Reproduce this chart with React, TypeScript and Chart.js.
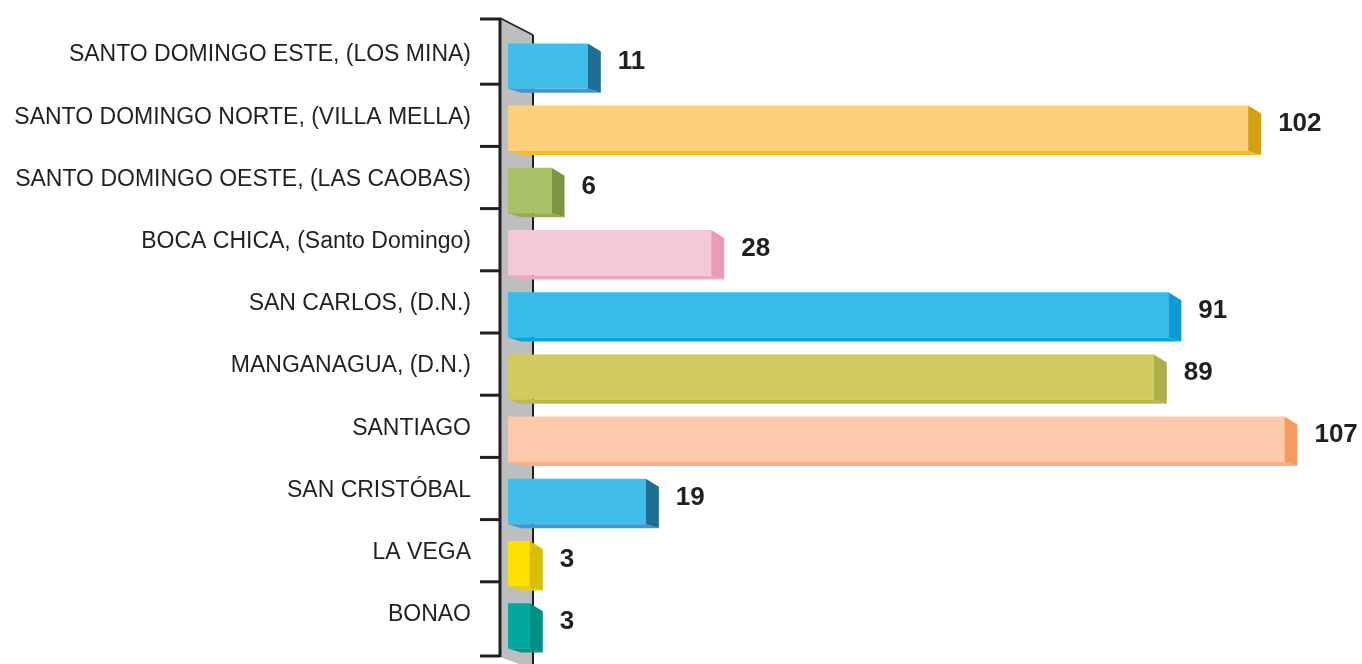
import React, { useEffect, useRef } from "react";
import { Chart, registerables } from "chart.js";

Chart.register(...registerables);

const categories = [
  "SANTO DOMINGO ESTE, (LOS MINA)",
  "SANTO DOMINGO NORTE, (VILLA MELLA)",
  "SANTO DOMINGO OESTE, (LAS CAOBAS)",
  "BOCA CHICA, (Santo Domingo)",
  "SAN CARLOS, (D.N.)",
  "MANGANAGUA, (D.N.)",
  "SANTIAGO",
  "SAN CRISTÓBAL",
  "LA VEGA",
  "BONAO",
];
const values = [11, 102, 6, 28, 91, 89, 107, 19, 3, 3];
const frontColors = [
  "#41bdea", "#ffd07a", "#a9c066", "#f4c8d8", "#37bbe9",
  "#d2ca5e", "#fbc9ab", "#41bdea", "#ffe000", "#00a89d",
];
const sideColors = [
  "#1f6e93", "#d4a012", "#7b9540", "#eb9ab8", "#0a9bd6",
  "#aeae48", "#f79a5e", "#1f6e93", "#d8c000", "#008f80",
];
const bottomColors = [
  "#3a9ad6", "#fbbb22", "#94ac52", "#f0a6c3", "#00a8e0",
  "#bcb84c", "#f9ae85", "#3a9ad6", "#e8d000", "#00988c",
];
const xMax = 117;

const TEXT = "#231f20";

const wallPlugin = {
  id: "wall3d",
  beforeDatasetsDraw(chart: any) {
    const { ctx, chartArea, scales } = chart;
    const ys = scales.y;
    const left = chartArea.left;
    const top = chartArea.top;
    const bottom = chartArea.bottom;
    const wl = left - 8;
    const wr = left + 25;
    ctx.save();
    // wall
    ctx.fillStyle = "#bdbec0";
    ctx.beginPath();
    ctx.moveTo(wl, top - 17);
    ctx.lineTo(wr, top);
    ctx.lineTo(wr, bottom + 12);
    ctx.lineTo(wl, bottom);
    ctx.closePath();
    ctx.fill();
    // top slanted edge
    ctx.strokeStyle = TEXT;
    ctx.lineWidth = 1.5;
    ctx.beginPath();
    ctx.moveTo(wl, top - 17);
    ctx.lineTo(wr, top);
    ctx.stroke();
    // right wall line
    ctx.lineWidth = 2;
    ctx.beginPath();
    ctx.moveTo(wr, top);
    ctx.lineTo(wr, bottom + 12);
    ctx.stroke();
    // left axis line
    ctx.lineWidth = 3;
    ctx.beginPath();
    ctx.moveTo(wl, top - 17);
    ctx.lineTo(wl, bottom);
    ctx.stroke();
    // ticks
    const half = (ys.getPixelForTick(1) - ys.getPixelForTick(0)) / 2;
    const n = categories.length;
    for (let i = 0; i <= n; i++) {
      let y;
      if (i === 0) y = top - 16;
      else if (i === n) y = bottom - 1;
      else y = ys.getPixelForTick(i - 1) + half - 13;
      ctx.beginPath();
      ctx.moveTo(wl - 20, y);
      ctx.lineTo(wl, y);
      ctx.stroke();
    }
    ctx.restore();
  },
  afterDatasetsDraw(chart: any) {
    const { ctx } = chart;
    const meta = chart.getDatasetMeta(0);
    ctx.save();
    meta.data.forEach((bar: any, i: number) => {
      const x = bar.x;
      const base = bar.base;
      const t = bar.y - bar.height / 2;
      const b = bar.y + bar.height / 2;
      // bottom face
      ctx.fillStyle = bottomColors[i];
      ctx.beginPath();
      ctx.moveTo(base, b);
      ctx.lineTo(x, b);
      ctx.lineTo(x + 13, b + 4);
      ctx.lineTo(base + 13, b + 4);
      ctx.closePath();
      ctx.fill();
      // side face
      ctx.fillStyle = sideColors[i];
      ctx.beginPath();
      ctx.moveTo(x, t);
      ctx.lineTo(x + 13, t + 8);
      ctx.lineTo(x + 13, b + 4);
      ctx.lineTo(x, b);
      ctx.closePath();
      ctx.fill();
      // value label
      ctx.fillStyle = TEXT;
      ctx.font = "bold 26px 'Liberation Sans', Arial, sans-serif";
      ctx.textAlign = "left";
      ctx.textBaseline = "middle";
      ctx.fillText(String(values[i]), x + 30, bar.y - 4);
    });
    ctx.restore();
  },
};

export default function App() {
  const ref = useRef<HTMLCanvasElement | null>(null);
  useEffect(() => {
    document.body.style.margin = "0";
    const canvas = ref.current;
    if (!canvas) return;
    const chart = new Chart(canvas, {
      type: "bar",
      data: {
        labels: categories,
        datasets: [
          {
            data: values,
            backgroundColor: frontColors,
            borderWidth: 0,
            categoryPercentage: 1,
            barPercentage: 0.73,
          },
        ],
      },
      options: {
        indexAxis: "y",
        animation: false,
        responsive: false,
        maintainAspectRatio: false,
        layout: { padding: { top: 35, bottom: 7, right: 5, left: 0 } },
        plugins: {
          legend: { display: false },
          tooltip: { enabled: false },
        },
        scales: {
          x: {
            display: false,
            min: 0,
            max: xMax,
          },
          y: {
            grid: { display: false, drawTicks: true, tickLength: 37 },
            border: { display: false },
            afterFit: (s: any) => {
              s.width = 508;
              s.paddingTop = 0;
              s.paddingBottom = 0;
            },
            ticks: {
              padding: 0,
              labelOffset: -11,
              color: TEXT,
              font: { family: "'Liberation Sans', Arial, sans-serif", size: 23 },
            },
          },
        },
      },
      plugins: [wallPlugin],
    } as any);
    return () => chart.destroy();
  }, []);
  return (
    <div style={{ width: 1362, height: 664, background: "#fff" }}>
      <canvas ref={ref} width={1362} height={664} />
    </div>
  );
}
